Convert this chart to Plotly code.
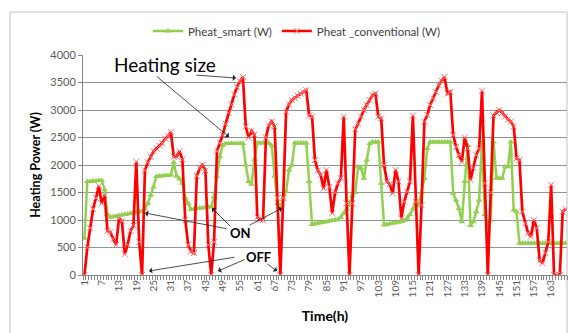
import plotly.graph_objects as go

hours = list(range(1, 169))

pheat_smart = [
    667, 1700, 1700, 1710, 1710, 1720, 1720, 1550, 1100, 1050,
    1060, 1070, 1080, 1090, 1100, 1110, 1120, 1130, 1140, 1150,
    1160, 1200, 1300, 1450, 1600, 1790, 1800, 1800, 1810, 1810,
    1820, 2050, 1800, 1750, 1670, 1400, 1300, 1190, 1200, 1210,
    1215, 1220, 1230, 1235, 1240, 1424, 1790, 2150, 2360, 2390,
    2390, 2390, 2390, 2390, 2390, 2390, 2000, 1700, 1650, 2100,
    2400, 2400, 2400, 2400, 2400, 2350, 1800, 1300, 1210, 1400,
    1515, 1910, 2000, 2400, 2400, 2400, 2400, 2400, 1700, 920,
    930, 940, 950, 960, 970, 980, 990, 1000, 1010, 1050,
    1120, 1200, 1300, 1450, 1500, 1970, 1940, 1760, 2090, 2390,
    2420, 2420, 2420, 1670, 910, 920, 930, 940, 950, 960,
    975, 990, 1030, 1100, 1200, 1330, 1270, 1500, 1760, 2300,
    2420, 2420, 2420, 2420, 2420, 2420, 2420, 2420, 1485, 1360,
    1210, 970, 1700, 2360, 900, 970, 1150, 1360, 2420, 1100,
    900, 1000, 2420, 1760, 1760, 1760, 1970, 1970, 2420, 1180,
    1150, 576, 576, 576, 576, 576, 576, 576, 576, 576,
    576, 576, 576, 576, 576, 576, 576, 576,
]

pheat_conventional = [
    0, 500, 850, 1200, 1400, 1620, 1300, 1450, 800, 780,
    650, 550, 1030, 980, 380, 550, 800, 900, 2060, 600,
    0, 1900, 2050, 2150, 2250, 2300, 2350, 2400, 2480, 2520,
    2600, 2150, 2150, 2250, 2100, 1000, 550, 430, 400, 1800,
    1940, 2000, 1900, 550, 0, 600, 2250, 2400, 2550, 2750,
    2950, 3100, 3280, 3420, 3520, 3600, 2700, 2500, 2620, 2550,
    1050, 1000, 1000, 2500, 2720, 2790, 2700, 1400, 0, 1400,
    2970, 3100, 3180, 3220, 3260, 3300, 3330, 3360, 2900, 2880,
    2090, 1900, 1820, 1575, 1910, 1600, 1120, 1500, 1667, 1760,
    2880, 1300, 0, 1300, 2650, 2750, 2880, 3000, 3090, 3180,
    3270, 3300, 2880, 2850, 2000, 1700, 1650, 1485, 1910, 1700,
    1030, 1330, 1515, 1700, 2900, 1330, 0, 1270, 2790, 2910,
    3090, 3210, 3330, 3450, 3530, 3600, 3300, 3330, 2545, 2330,
    2180, 2060, 2500, 2300, 1730, 1950, 2180, 2300, 3350, 1667,
    0, 1500, 2900, 2950, 3000, 2950, 2880, 2830, 2790, 2700,
    2120, 2090, 1150, 940, 760, 700, 1000, 850, 270, 215,
    400, 600, 1640, 0, 0, 0, 1150, 1200,
]

tick_hours = list(range(1, 169, 6))
tick_labels = [str(h) for h in tick_hours]
y_ticks = list(range(0, 4001, 500))

FONT = "Lato"
W, H = 568, 333
ML, MR, MT, MB = 83, 1, 55, 58
PW = W - ML - MR
PH = H - MT - MB

def px(x):
    return (x - ML) / PW

def py(y):
    return (H - MB - y) / PH

fig = go.Figure()
fig.add_trace(go.Scatter(
    x=hours, y=pheat_smart, name="Pheat_smart (W)", mode="lines+markers",
    line=dict(color="#92D050", width=2.5),
    marker=dict(symbol="triangle-up", size=6, color="#92D050"),
))
fig.add_trace(go.Scatter(
    x=hours, y=pheat_conventional, name="Pheat _conventional (W)", mode="lines+markers",
    line=dict(color="#FF0000", width=2.7),
    marker=dict(symbol="x-thin", size=6, line=dict(color="#FF7070", width=1)),
))

grid = "#939393"
fig.update_layout(
    width=W, height=H,
    margin=dict(l=ML, r=MR, t=MT, b=MB, autoexpand=False),
    paper_bgcolor="white", plot_bgcolor="white",
    font=dict(family=FONT, color="#404040"),
    showlegend=True,
    legend=dict(orientation="h", x=px(297), xanchor="center", y=py(31), yanchor="middle",
                font=dict(size=11.5, color="#404040"), itemwidth=30, tracegroupgap=0,
                bgcolor="rgba(0,0,0,0)"),
    xaxis=dict(
        range=[0.5, 168.5], tickmode="array", tickvals=tick_hours, ticktext=tick_labels,
        tickangle=-90, tickfont=dict(size=10, color="#595959"),
        ticks="", showgrid=False, zeroline=False, automargin=False,
        showline=True, linecolor="#868686", linewidth=1,
        minor=dict(tickmode="linear", tick0=0.5, dtick=1, ticks="outside", ticklen=4,
                   tickcolor="#868686", showgrid=False),
        title=dict(text="<b>Time(h)</b>", font=dict(size=14, color="#000000"), standoff=14),
    ),
    yaxis=dict(
        range=[0, 4000], tickvals=y_ticks, tickfont=dict(size=11, color="#595959"),
        ticks="outside", ticklen=4, tickcolor="#868686", automargin=False,
        showgrid=True, gridcolor=grid, gridwidth=1, zeroline=False,
        showline=True, linecolor="#868686", linewidth=1,
        title=dict(text="<b>Heating Power (W)</b>", font=dict(size=12.5, color="#000000"), standoff=6),
    ),
)

# chart-area border
fig.add_shape(type="rect", xref="paper", yref="paper",
              x0=px(10), x1=px(567), y0=py(340), y1=py(12),
              line=dict(color="#bfbfbf", width=1), fillcolor="rgba(0,0,0,0)", layer="below")

# text annotations
fig.add_annotation(xref="paper", yref="paper", x=px(165), y=py(64), text="Heating size",
                   xanchor="center", yanchor="middle",
                   showarrow=False, font=dict(size=19, color="#000000", family=FONT))
fig.add_annotation(xref="paper", yref="paper", x=px(240), y=py(233), text="<b>ON</b>",
                   xanchor="center", yanchor="middle",
                   showarrow=False, font=dict(size=13, color="#000000", family=FONT))
fig.add_annotation(xref="paper", yref="paper", x=px(258), y=py(257), text="<b>OFF</b>",
                   xanchor="center", yanchor="middle",
                   showarrow=False, font=dict(size=13, color="#000000", family=FONT))

# arrows: head in data coords, tail as pixel offset
def hour_of(xp):
    return (xp - ML) / PW * 168 + 0.5

def val_of(yp):
    return (H - MB - yp) / PH * 4000

arrows = [
    ((236, 78), (195, 75)),
    ((229, 137), (155, 75)),
    ((145, 213), (228, 229)),
    ((212, 208), (232, 228)),
    ((282, 208), (248, 226)),
    ((149, 271), (236, 257)),
    ((218, 271), (246, 259)),
    ((277, 271), (266, 263)),
]
for (hx, hy), (tx, ty) in arrows:
    fig.add_annotation(x=hour_of(hx), y=val_of(hy), xref="x", yref="y",
                       ax=tx - hx, ay=ty - hy, axref="pixel", ayref="pixel",
                       text="", showarrow=True, arrowhead=1, arrowsize=1.3,
                       arrowwidth=0.8, arrowcolor="#202020")

fig.write_html("out.html", config={"displayModeBar": False},
               post_script="document.body.style.margin='0px';document.body.style.overflow='hidden';")
